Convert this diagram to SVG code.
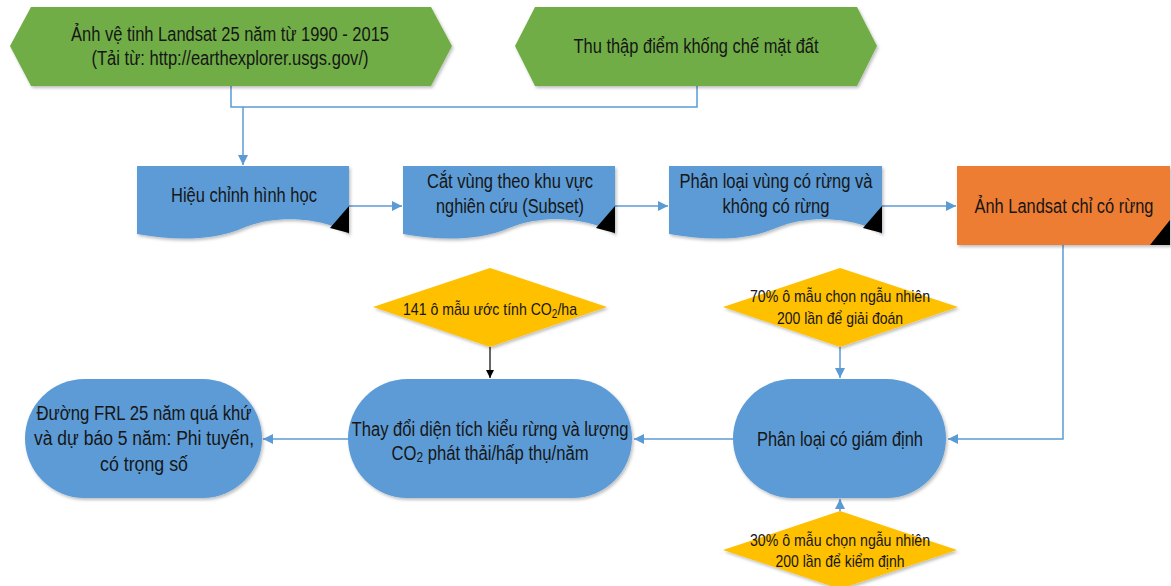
<svg xmlns="http://www.w3.org/2000/svg" width="1171" height="586" viewBox="0 0 1171 586">
<style>
.t{font-family:"Liberation Sans Narrow","Arial Narrow","Liberation Sans",Arial,sans-serif;font-size:19.5px;fill:#161616;text-anchor:middle}
.s{font-size:17px}
.green{fill:#70AD47}
.blue{fill:#5B9BD5}
.orange{fill:#ED7D31}
.yellow{fill:#FFC000}
.shape{filter:url(#sh)}
.c{fill:none;stroke:#5B9BD5;stroke-width:1.5}
.k{fill:none;stroke:#000;stroke-width:1.2}
</style>
<defs>
<filter id="sh" x="-10%" y="-10%" width="130%" height="140%">
<feDropShadow dx="1.5" dy="2" stdDeviation="1.5" flood-color="#000" flood-opacity="0.25"/>
</filter>
<marker id="ab" viewBox="0 0 10 10" refX="10" refY="5" markerWidth="10" markerHeight="10" markerUnits="userSpaceOnUse" orient="auto">
<path d="M0,0 L10,5 L0,10 Z" fill="#5B9BD5"/>
</marker>
<marker id="ak" viewBox="0 0 10 10" refX="10" refY="5" markerWidth="8" markerHeight="8" markerUnits="userSpaceOnUse" orient="auto">
<path d="M0,0 L10,5 L0,10 Z" fill="#000"/>
</marker>
</defs>

<g id="connectors">
<path class="c" d="M231,86 V107 H697 V86"/>
<path class="c" d="M243,107 V165" marker-end="url(#ab)"/>
<path class="c" d="M349,206 H402" marker-end="url(#ab)"/>
<path class="c" d="M615,206 H668" marker-end="url(#ab)"/>
<path class="c" d="M882,206 H956" marker-end="url(#ab)"/>
<path class="c" d="M1063,245 V439 H948" marker-end="url(#ab)"/>
<path class="c" d="M840,347 V378" marker-end="url(#ab)"/>
<path class="c" d="M840,511 V499" marker-end="url(#ab)"/>
<path class="c" d="M733,439 H634" marker-end="url(#ab)"/>
<path class="c" d="M348,439 H263" marker-end="url(#ab)"/>
<path class="k" d="M490,347 V378" marker-end="url(#ak)"/>
</g>

<g id="n1">
<polygon class="green shape" points="10,46 31,7 431,7 452,46 431,86 31,86"/>
<text class="t" x="230" y="41" textLength="318" lengthAdjust="spacingAndGlyphs">Ảnh vệ tinh Landsat 25 năm từ 1990 - 2015</text>
<text class="t" x="230" y="65" textLength="277" lengthAdjust="spacingAndGlyphs">(Tải từ: http://earthexplorer.usgs.gov/)</text>
</g>

<g id="n2">
<polygon class="green shape" points="515,46 535,7 857,7 877,46 857,86 535,86"/>
<text class="t" x="696" y="53" textLength="245" lengthAdjust="spacingAndGlyphs">Thu thập điểm khống chế mặt đất</text>
</g>

<g id="n3">
<path class="blue shape" d="M137,166 H349 V234 C330,220 280,212 243,228 C210,242 170,240 137,234 Z"/>
<polygon points="330,228 349,206 349,233" fill="#000"/>
<text class="t" x="244" y="202" textLength="146" lengthAdjust="spacingAndGlyphs">Hiệu chỉnh hình học</text>
</g>

<g id="n4">
<path class="blue shape" d="M403,166 H615 V234 C596,220 546,212 509,228 C476,242 436,240 403,234 Z"/>
<polygon points="596,228 615,206 615,233" fill="#000"/>
<text class="t" x="510" y="188" textLength="166" lengthAdjust="spacingAndGlyphs">Cắt vùng theo khu vực</text>
<text class="t" x="510" y="213" textLength="148" lengthAdjust="spacingAndGlyphs">nghiên cứu (Subset)</text>
</g>

<g id="n5">
<path class="blue shape" d="M669,166 H882 V234 C863,220 813,212 776,228 C743,242 703,240 669,234 Z"/>
<polygon points="863,228 882,206 882,233" fill="#000"/>
<text class="t" x="776" y="188" textLength="193" lengthAdjust="spacingAndGlyphs">Phân loại vùng có rừng và</text>
<text class="t" x="776" y="213" textLength="107" lengthAdjust="spacingAndGlyphs">không có rừng</text>
</g>

<g id="n6">
<rect class="orange shape" x="957" y="166" width="213" height="79"/>
<polygon points="1150,245 1170,220 1170,245" fill="#000"/>
<text class="t" x="1064" y="213" textLength="179" lengthAdjust="spacingAndGlyphs">Ảnh Landsat chỉ có rừng</text>
</g>

<g id="n7">
<polygon class="yellow shape" points="490,268 607,307 490,347 373,307"/>
<text class="t s" x="490" y="315" textLength="174" lengthAdjust="spacingAndGlyphs">141 ô mẫu ước tính CO<tspan font-size="12" dy="3">2</tspan><tspan dy="-3">/ha</tspan></text>
</g>

<g id="n8">
<polygon class="yellow shape" points="840,268 958,307 840,347 723,307"/>
<text class="t s" x="840" y="302" textLength="180" lengthAdjust="spacingAndGlyphs">70% ô mẫu chọn ngẫu nhiên</text>
<text class="t s" x="840" y="324" textLength="126" lengthAdjust="spacingAndGlyphs">200 lần để giải đoán</text>
</g>

<g id="n9">
<rect class="blue shape" x="733" y="379" width="213" height="119" rx="59.5" ry="59.5"/>
<text class="t" x="840" y="446" textLength="166" lengthAdjust="spacingAndGlyphs">Phân loại có giám định</text>
</g>

<g id="n10">
<polygon class="yellow shape" points="840,511 957,550 840,589 723,550"/>
<text class="t s" x="840" y="546" textLength="180" lengthAdjust="spacingAndGlyphs">30% ô mẫu chọn ngẫu nhiên</text>
<text class="t s" x="840" y="567" textLength="129" lengthAdjust="spacingAndGlyphs">200 lần để kiểm định</text>
</g>

<g id="n11">
<rect class="blue shape" x="348" y="379" width="284" height="119" rx="59.5" ry="59.5"/>
<text class="t" x="490" y="436" textLength="277" lengthAdjust="spacingAndGlyphs">Thay đổi diện tích kiểu rừng và lượng</text>
<text class="t" x="490" y="460" textLength="197" lengthAdjust="spacingAndGlyphs">CO<tspan font-size="14" dy="2">2</tspan><tspan dy="-2"> phát thải/hấp thụ/năm</tspan></text>
</g>

<g id="n12">
<rect class="blue shape" x="25" y="379" width="237" height="119" rx="59.5" ry="59.5"/>
<text class="t" x="144" y="420" textLength="215" lengthAdjust="spacingAndGlyphs">Đường FRL 25 năm quá khứ</text>
<text class="t" x="144" y="445" textLength="220" lengthAdjust="spacingAndGlyphs">và dự báo 5 năm: Phi tuyến,</text>
<text class="t" x="144" y="471" textLength="88" lengthAdjust="spacingAndGlyphs">có trọng số</text>
</g>
</svg>
